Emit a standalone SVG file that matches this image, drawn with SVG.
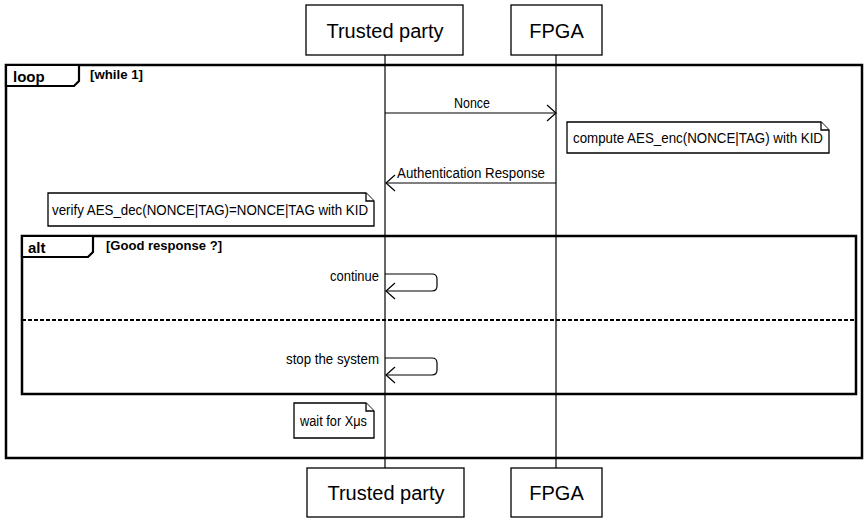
<svg xmlns="http://www.w3.org/2000/svg" width="864" height="518" viewBox="0 0 864 518">
<defs>
<style>
.box{fill:#fff;stroke:#000;stroke-width:1.3}
.ptxt{font-family:"Liberation Sans",Arial,sans-serif;font-size:20px;fill:#000;text-anchor:middle}
.life{stroke:#000;stroke-width:1.2;fill:none}
.frame{fill:none;stroke:#000;stroke-width:2.5}
.tab{fill:#fff;stroke:#000;stroke-width:2.2}
.ftitle{font-family:"Liberation Sans",Arial,sans-serif;font-size:15px;font-weight:bold;fill:#000}
.guard{font-family:"Liberation Sans",Arial,sans-serif;font-size:13.5px;font-weight:bold;fill:#000}
.lbl{font-family:"Liberation Sans",Arial,sans-serif;font-size:14px;fill:#000}
.msg{stroke:#000;stroke-width:1.2;fill:none}
.note{fill:#fff;stroke:#000;stroke-width:1.3}
.dash{stroke:#000;stroke-width:2;stroke-dasharray:4 2;fill:none}
</style>
<marker id="open" markerWidth="12" markerHeight="18" refX="10" refY="9" orient="auto" markerUnits="userSpaceOnUse">
<path d="M1,1 L10,9 L1,17" fill="none" stroke="#000" stroke-width="1.2"/>
</marker>
</defs>
<rect width="864" height="518" fill="#fff"/>

<g id="loop-frame">
<rect class="frame" x="6" y="65" width="856" height="393"/>
<path class="tab" d="M6,65 H79 V81 L74,86 H6 Z"/>
<text class="ftitle" x="13" y="82">loop</text>
<text class="guard" x="90" y="79" textLength="53" lengthAdjust="spacingAndGlyphs">[while 1]</text>
</g>

<g id="alt-frame">
<rect class="frame" x="22" y="236" width="834" height="158"/>
<path class="tab" d="M22,236 H93 V252 L88,257 H22 Z"/>
<text class="ftitle" x="28" y="253">alt</text>
<text class="guard" x="106" y="250" textLength="116" lengthAdjust="spacingAndGlyphs">[Good response ?]</text>
<line class="dash" x1="22" y1="320" x2="856" y2="320"/>
</g>

<g id="trusted-party">
<line class="life" x1="385" y1="55" x2="385" y2="468"/>
<rect class="box" x="306" y="5" width="157" height="50"/>
<text class="ptxt" x="385" y="38">Trusted party</text>
<rect class="box" x="307" y="468" width="157" height="49"/>
<text class="ptxt" x="386" y="500">Trusted party</text>
</g>

<g id="fpga">
<line class="life" x1="556" y1="55" x2="556" y2="468"/>
<rect class="box" x="511" y="5" width="91" height="50"/>
<text class="ptxt" x="556.5" y="38">FPGA</text>
<rect class="box" x="511" y="468" width="91" height="49"/>
<text class="ptxt" x="556.5" y="500">FPGA</text>
</g>

<g id="connectors">
<line class="msg" x1="385" y1="113" x2="556" y2="113" marker-end="url(#open)"/>
<text class="lbl" x="454" y="108" textLength="36" lengthAdjust="spacingAndGlyphs">Nonce</text>
<line class="msg" x1="556" y1="183" x2="386" y2="183" marker-end="url(#open)"/>
<text class="lbl" x="397" y="178" textLength="148" lengthAdjust="spacingAndGlyphs">Authentication Response</text>
<path class="msg" d="M385,274 H432 Q437,274 437,279 V286 Q437,291 432,291 H386" marker-end="url(#open)"/>
<text class="lbl" x="330" y="281" textLength="49" lengthAdjust="spacingAndGlyphs">continue</text>
<path class="msg" d="M385,358 H432 Q437,358 437,363 V370 Q437,375 432,375 H386" marker-end="url(#open)"/>
<text class="lbl" x="286" y="364" textLength="93" lengthAdjust="spacingAndGlyphs">stop the system</text>
</g>

<g id="note-compute">
<path class="note" d="M567,122 H821 L829,130 V153 H567 Z"/>
<path class="note" d="M821,122 V130 H829" fill="none"/>
<text class="lbl" x="573" y="143" textLength="250" lengthAdjust="spacingAndGlyphs">compute AES_enc(NONCE|TAG) with KID</text>
</g>

<g id="note-verify">
<path class="note" d="M48,193 H366 L374,201 V226 H48 Z"/>
<path class="note" d="M366,193 V201 H374" fill="none"/>
<text class="lbl" x="52" y="215" textLength="316" lengthAdjust="spacingAndGlyphs">verify AES_dec(NONCE|TAG)=NONCE|TAG with KID</text>
</g>

<g id="note-wait">
<path class="note" d="M294,403 H366 L374,411 V438 H294 Z"/>
<path class="note" d="M366,403 V411 H374" fill="none"/>
<text class="lbl" x="300" y="426" textLength="67" lengthAdjust="spacingAndGlyphs">wait for Xμs</text>
</g>
</svg>
